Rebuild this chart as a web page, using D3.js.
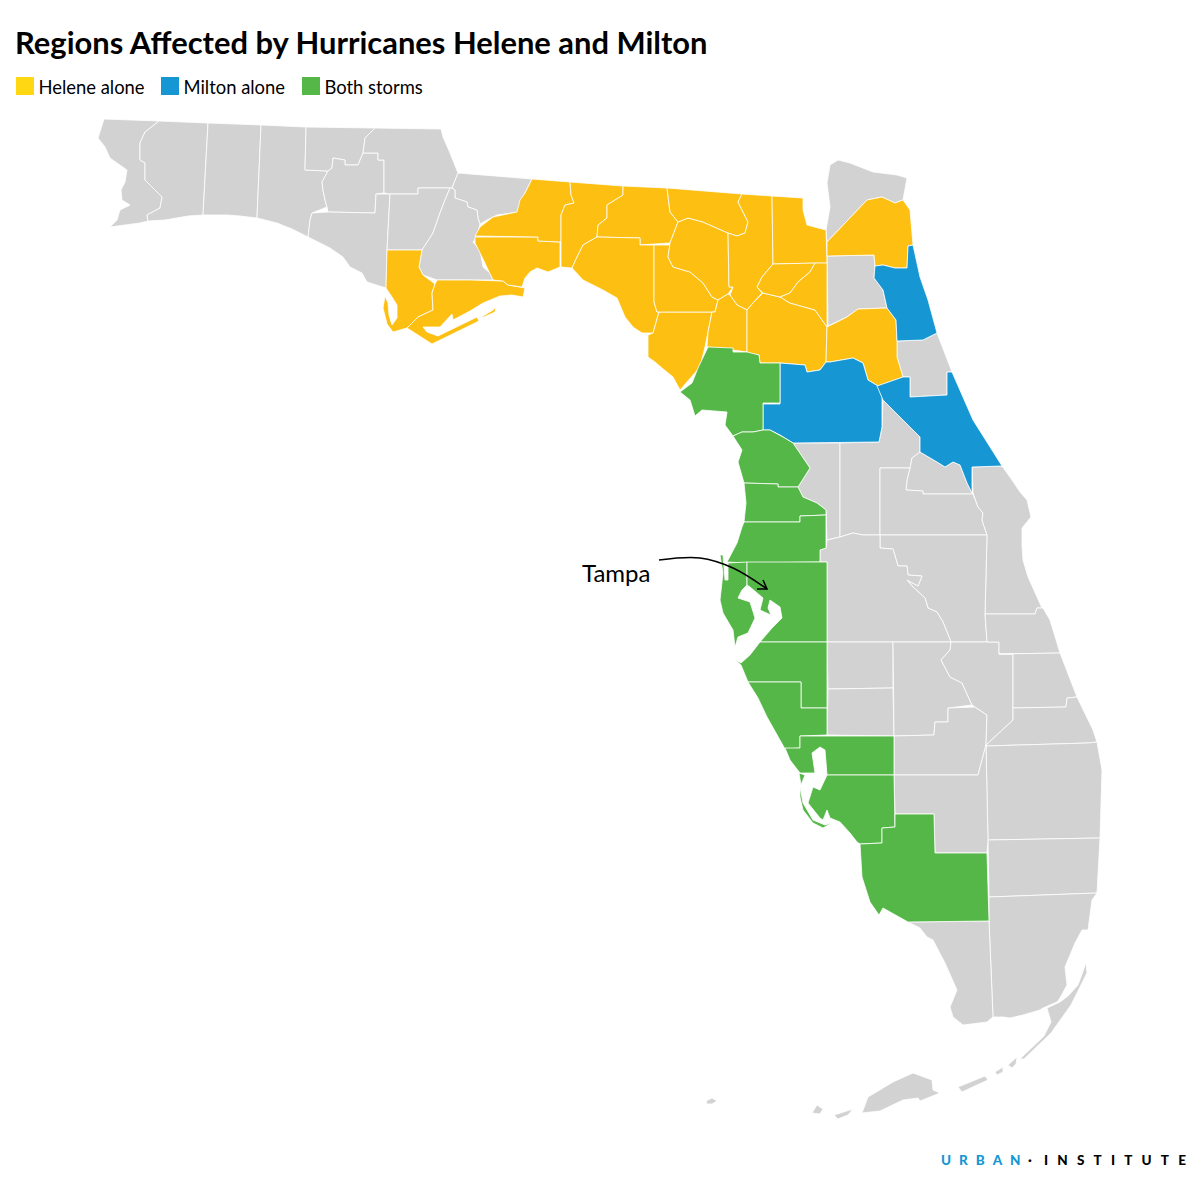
<!DOCTYPE html>
<html>
<head>
	<title></title>
	<style>
		html, body { margin: 0; background: white; }
		svg { display: block; font-family: Lato, sans-serif; }
	</style>
</head>
<body>
<svg class="map" width="1200" height="1183"></svg>

<script src="https://d3js.org/d3.v7.min.js"></script>
<script>

var titleText = 'Regions Affected by Hurricanes Helene and Milton'
var stormLabels = ['Helene alone', 'Milton alone', 'Both storms']
var stormKeys = ['helene', 'milton', 'both']
var stormColors = ['#fdbf11', '#1696d2', '#55b748']

var countyNames = [
	'Escambia', 'Santa Rosa', 'Okaloosa', 'Walton', 'Holmes', 'Washington', 'Bay', 'Jackson',
	'Gadsden', 'Calhoun', 'Liberty', 'Nassau', 'Clay', 'Flagler', 'Sumter', 'Lake', 'Seminole',
	'Orange', 'Brevard', 'Osceola', 'Polk', 'Hardee', 'DeSoto', 'Highlands', 'Glades', 'Okeechobee',
	'Indian River', 'St Lucie', 'Martin', 'Palm Beach', 'Broward', 'Hendry', 'Miami-Dade', 'Monroe',
	'Gulf', 'Franklin', 'Wakulla', 'Leon', 'Jefferson', 'Madison', 'Taylor', 'Dixie', 'Lafayette',
	'Suwannee', 'Hamilton', 'Columbia', 'Baker', 'Gilchrist', 'Alachua', 'Union', 'Bradford',
	'Duval', 'Putnam',
	'St Johns', 'Marion', 'Volusia',
	'Levy', 'Citrus', 'Hernando', 'Pasco', 'Pinellas', 'Hillsborough', 'Manatee', 'Sarasota',
	'Charlotte', 'Lee', 'Collier'
]

var heleneCounties = ['Gulf', 'Franklin', 'Wakulla', 'Leon', 'Jefferson', 'Madison', 'Taylor', 'Dixie', 'Lafayette',
	'Suwannee', 'Hamilton', 'Columbia', 'Baker', 'Gilchrist', 'Alachua', 'Union', 'Bradford', 'Duval', 'Putnam']
var miltonCounties = ['St Johns', 'Marion', 'Volusia']
var bothCounties = ['Levy', 'Citrus', 'Hernando', 'Pasco', 'Pinellas', 'Hillsborough', 'Manatee', 'Sarasota',
	'Charlotte', 'Lee', 'Collier']

var countyOutlines = [
	['104,119 98,138 105,147 110,158 127,170 125,182 121,190 122,200 130,205 120,210 117,220 110,227 140,223 148,221 147,215 160,208 162,197 145,180 145,163 140,160 140,143 145,132 159,121'],
	['159,121 208,123 203,215 188,216 165,220 148,221 147,215 160,208 162,197 145,180 145,163 140,160 140,143 145,132'],
	['208,123 261,125 257,218 240,216 227,215 203,215'],
	['261,125 306,127 305,170 328,171 322,182 323,190 325,200 327,207 312,213 310,220 308,237 292,229 277,223 257,218'],
	['306,127 375,128 365,138 363,153 358,165 345,165 345,160 333,158 332,168 328,171 305,170'],
	['328,171 332,168 333,158 345,160 345,165 358,165 363,153 378,153 378,160 384,160 384,193 376,194 375,213 328,212 327,207 325,200 323,190 322,182'],
	['312,213 328,212 375,213 376,194 390,194 387,250 386,288 367,282 362,273 350,267 343,257 330,248 308,237 310,220'],
	['375,128 441,129 443,137 450,153 458,173 452,188 418,188 418,194 390,194 384,193 384,160 378,160 378,153 363,153 365,138'],
	['458,173 532,179 525,193 519,212 497,215 487,220 480,224 478,218 477,210 468,207 467,202 455,198 455,190 452,188'],
	['390,194 418,194 418,188 450,188 445,200 440,213 433,233 422,250 387,250'],
	['450,188 452,188 455,190 455,198 467,202 468,207 477,210 478,218 480,224 477,237 473,242 480,250 483,267 490,273 493,280 437,280 423,275 419,267 422,250 433,233 440,213 445,200'],
	['838,160 830,165 827,183 830,207 826,230 827,242 867,200 882,197 895,203 903,200 907,178 897,175 873,172 850,163'],
	['827,256 874,255 875,266 874,278 883,290 887,308 858,309 847,317 828,326'],
	['897,341 923,340 937,333 952,372 947,372 947,395 910,397 910,377 903,377 897,357'],
	['793,443 840,443 840,537 827,540 826,510 817,503 803,497 798,487 810,468'],
	['840,443 879,442 882,427 883,400 903,420 920,437 920,452 912,458 910,468 880,468 880,535 863,535 853,533 840,537'],
	['910,468 912,458 920,452 937,462 945,467 953,462 960,465 967,483 972,493 973,494 923,494 923,491 906,490 907,480'],
	['880,468 910,468 907,480 906,490 923,491 923,494 973,494 978,507 983,513 982,520 987,535 880,535'],
	['972,467 1002,466 1012,480 1020,492 1027,500 1031,517 1022,528 1022,545 1023,560 1028,577 1042,608 1037,608 1035,614 985,614 987,535 982,520 983,513 978,507 973,493'],
	['880,535 987,535 985,614 987,642 951,642 943,622 937,612 928,608 925,598 913,587 907,580 918,586 922,576 908,575 907,566 898,566 893,549 880,548'],
	['827,540 840,537 853,533 863,535 880,535 880,548 893,549 898,566 907,566 908,575 922,576 918,586 907,580 913,587 925,598 928,608 937,612 943,622 951,642 827,642 827,562 820,562 820,550 826,548'],
	['827,642 893,642 893,688 828,689'],
	['828,689 893,688 894,736 827,735'],
	['893,642 951,642 950,650 941,660 950,677 962,683 972,705 948,708 948,722 935,722 934,735 894,736'],
	['894,736 934,735 935,722 948,722 948,708 975,707 987,715 986,745 978,775 894,775'],
	['951,642 999,642 999,654 1013,654 1013,720 986,745 987,715 975,707 972,705 962,683 950,677 941,660 950,650'],
	['985,614 1035,614 1037,608 1043,608 1050,620 1060,653 999,654 999,642 987,642'],
	['999,654 1060,653 1077,697 1067,698 1066,707 1013,708 1013,654'],
	['1013,708 1066,707 1067,698 1077,697 1093,730 1097,742 1088,743 985,746 1013,720'],
	['986,746 1088,743 1097,742 1102,770 1100,838 988,840'],
	['988,840 1100,838 1097,893 989,897'],
	['894,775 978,775 986,745 988,840 987,853 935,853 934,814 895,814'],
	['989,897 1097,893 1092,900 1088,930 1082,930 1075,943 1065,967 1067,985 1060,998 1057,1002 1043,1008 1040,1010 1023,1015 1010,1018 1003,1017 993,1017 989,921'],
	['908,922 989,921 993,1017 987,1022 963,1025 953,1017 950,1007 957,990 945,963 933,940 927,937 920,928',
		'1086,963 1078,985 1068,996 1060,1002 1047,1008 1051,1022 1044,1036 1020,1059 1024,1059 1051,1033 1071,1005 1087,973',
		'862,1113 868,1097 893,1082 913,1073 932,1080 933,1090 940,1093 920,1101 918,1098 903,1100 880,1111',
		'958,1087 985,1076 988,1080 962,1092',
		'995,1072 1003,1067 1003,1072 997,1075',
		'1008,1065 1017,1057 1016,1064 1012,1068',
		'834,1115 853,1109 848,1115 838,1119',
		'812,1113 817,1105 823,1109 820,1114',
		'706,1101 712,1098 717,1101 712,1104 707,1104'],
	['387,250 422,250 419,267 423,275 435,284 432,293 433,310 418,317 407,328 393,332 387,324 383,308 385,296 388,303 389,315 392,325 397,318 397,305 392,297 386,288'],
	['437,280 470,280 503,281 508,285 525,288 523,297 512,295 500,296 483,303 470,311 453,320 452,314 440,327 423,327 427,332 438,336 477,317 479,321 432,344 407,328 418,317 433,310 432,293 435,284',
		'480,318 493,310 496,307 495,312 484,317'],
	['475,237 538,237 538,241 560,242 560,267 548,272 537,268 530,272 525,278 522,287 508,285 503,281 493,280 482,257 475,243'],
	['532,179 570,182 571,195 574,203 565,205 561,215 561,242 538,241 538,237 475,236 480,227 493,217 517,212 520,200 525,193'],
	['570,182 623,186 623,195 607,205 607,218 598,225 597,237 583,245 577,257 572,268 561,267 561,242 561,215 565,205 574,203 571,195'],
	['623,186 667,188 670,212 678,222 670,243 640,245 640,238 597,237 598,225 607,218 607,205 623,195'],
	['597,237 640,238 640,245 654,245 654,302 657,312 659,312 653,333 642,333 633,327 625,317 617,298 603,290 583,280 572,268 577,257 583,245'],
	['659,312 712,312 708,332 705,347 700,367 680,390 673,377 662,368 655,362 648,357 648,335 653,333'],
	['654,245 670,245 668,257 673,267 690,272 703,283 712,297 718,300 715,312 659,312 657,312 654,302'],
	['670,243 678,222 688,218 703,222 728,233 729,287 733,287 728,294 718,300 712,297 703,283 690,272 673,267 668,257'],
	['667,188 742,194 738,202 748,222 745,233 737,236 728,233 703,222 688,218 678,222 670,212'],
	['742,194 772,196 773,264 762,277 757,287 762,293 753,303 747,310 737,305 730,295 733,287 729,287 728,233 737,236 745,233 748,222 738,202'],
	['772,196 803,198 803,210 807,225 826,230 827,263 773,264'],
	['718,300 728,294 730,295 737,305 747,310 747,352 733,350 707,347 708,332 712,312 715,312'],
	['747,310 753,303 763,293 780,297 790,303 815,310 827,327 826,362 820,370 807,372 805,365 780,363 760,363 759,355 747,353'],
	['773,264 815,263 810,272 798,282 790,293 780,297 763,293 757,287 762,277'],
	['815,263 827,263 827,327 815,310 790,303 780,297 790,293 798,282 810,272'],
	['827,242 867,200 882,197 895,203 903,200 910,210 913,245 908,246 907,268 895,268 883,265 875,266 874,255 827,256'],
	['827,327 847,317 858,309 887,308 896,320 897,341 897,357 903,377 878,386 868,380 863,363 853,358 830,362 826,362'],
	['875,266 883,265 895,268 907,268 908,246 913,245 920,277 928,300 937,333 923,340 897,341 896,320 887,308 883,290 874,278'],
	['780,363 805,365 807,372 820,370 826,362 830,362 853,358 863,363 868,380 878,386 882,397 882,427 879,442 793,443 780,435 770,430 763,430 763,404 780,404'],
	['903,377 910,377 910,397 947,395 947,372 952,372 973,420 1002,466 972,467 972,493 967,483 960,465 953,462 945,467 937,462 920,452 920,437 903,420 883,400 877,386'],
	['708,347 733,348 733,352 747,352 759,355 760,363 780,363 780,403 763,403 763,430 753,432 742,432 733,436 725,425 727,412 702,410 695,416 690,400 680,392 692,383 698,368'],
	['733,436 742,432 753,432 763,430 770,430 783,437 793,443 810,468 798,487 778,487 778,484 744,483 738,462 742,450'],
	['744,483 778,484 778,487 798,487 803,497 817,503 826,510 826,515 800,516 800,522 744,522 746,503'],
	['744,522 800,522 800,516 826,515 826,548 820,550 820,562 747,563 727,562 737,543 742,527'],
	['720,555 723,555 725,580 728,580 728,563 747,562 747,585 742,590 738,598 750,602 755,618 748,633 738,637 735,647 733,630 723,613 720,600 723,573'],
	['747,562 827,562 827,642 760,642 772,628 782,618 780,607 770,600 768,608 771,615 760,610 763,598 750,587 747,585'],
	['760,642 827,642 827,708 801,708 801,682 748,682 741,665 735,660 741,663 750,655'],
	['748,682 801,682 801,708 827,708 827,735 800,736 800,748 785,749 767,717 758,698'],
	['785,748 800,748 800,736 894,736 894,775 827,775 825,750 820,747 812,753 815,773 800,773 790,760',
		'799,773 805,775 801,785'],
	['827,775 894,775 895,827 882,828 882,843 860,844 857,842 850,833 840,822 830,818 827,810 823,820 820,818 808,803 813,787 820,790',
		'800,787 803,803 813,820 825,825 832,823 823,828 813,823 803,810 800,797'],
	['895,814 934,814 935,853 987,853 989,921 908,922 883,908 879,915 870,902 862,877 860,844 882,843 882,828 895,827']
]

// the Tampa call-out line, in map units
var tampaLabel = 'Tampa'
var tampaLeader = [[659, 560], [700, 558], [733, 568], [767, 589]]
var tampaBarbs = [[[757, 589], [767, 589], [763, 580]]]

var brandFirst = 'URBAN'
var brandDot = '\u00b7'
var brandSecond = 'INSTITUTE'


var width = 1200
var height = 1183
var svg = d3.select('.map')

function stormOf(name) {
	if (heleneCounties.includes(name)) return 'helene'
	if (miltonCounties.includes(name)) return 'milton'
	if (bothCounties.includes(name)) return 'both'
	return 'none'
}

function parseRing(ring) {
	var pts = ring.split(' ').map(function(p) { return p.split(',').map(Number) })
	pts.push(pts[0])
	return [pts]
}

var counties = countyNames.map(function(name, i) {
	return {
		type: 'Feature',
		properties: { name: name, storm: stormOf(name) },
		geometry: { type: 'MultiPolygon', coordinates: countyOutlines[i].map(parseRing) }
	}
})

var stormColor = d3.scaleOrdinal().domain(stormKeys).range(stormColors).unknown('#d2d2d2')

var xScale = d3.scaleLinear().domain([0, 1200]).range([0, width])
var yScale = d3.scaleLinear().domain([0, 1183]).range([0, height])
var path = d3.geoPath(d3.geoTransform({
	point: function(x, y) { this.stream.point(xScale(x), yScale(y)) }
}))

// counties, affected ones last so their edges sit on top
svg.append('g').selectAll('path')
	.data(counties)
	.enter().append('path')
		.attr('d', path)
		.attr('fill', function(d) { return stormColor(d.properties.storm) })
		.attr('stroke', 'white')
		.attr('stroke-width', 0.8)
		.attr('stroke-linejoin', 'round')

// title
svg.append('text')
	.attr('x', 15)
	.attr('y', 54)
	.attr('font-size', 30.9)
	.attr('font-weight', 700)
	.attr('fill', '#000')
	.text(titleText)

// legend
var legendX = [16, 161, 302]
var legendSwatch = ['#ffd712', stormColors[1], stormColors[2]]
var legend = svg.append('g').selectAll('g')
	.data(stormLabels)
	.enter().append('g')
		.attr('transform', function(d, i) { return 'translate(' + legendX[i] + ',77)' })
legend.append('rect')
	.attr('width', 18)
	.attr('height', 18)
	.attr('fill', function(d, i) { return legendSwatch[i] })
legend.append('text')
	.attr('x', 22.5)
	.attr('y', 17)
	.attr('font-size', 18.4)
	.attr('fill', '#000')
	.text(function(d) { return d })

// Tampa annotation
svg.append('text')
	.attr('x', 582)
	.attr('y', 582)
	.attr('font-size', 24)
	.attr('fill', '#000')
	.text(tampaLabel)

var line = d3.line()
	.x(function(d) { return xScale(d[0]) })
	.y(function(d) { return yScale(d[1]) })
svg.append('path')
	.attr('d', line.curve(d3.curveCatmullRom)(tampaLeader))
	.attr('fill', 'none')
	.attr('stroke', '#000')
	.attr('stroke-width', 1.5)
svg.append('path')
	.attr('d', line.curve(d3.curveLinear)(tampaBarbs[0]))
	.attr('fill', 'none')
	.attr('stroke', '#000')
	.attr('stroke-width', 1.5)

// logo text
var brandX = [941, 1028, 1044]
var brandSpacing = [8, 0, 9.2]
var brandFill = ['#1696d2', '#000', '#000']
svg.append('g').selectAll('text')
	.data([brandFirst, brandDot, brandSecond])
	.enter().append('text')
		.attr('x', function(d, i) { return brandX[i] })
		.attr('y', 1165)
		.attr('font-size', 13.5)
		.attr('font-weight', 900)
		.attr('letter-spacing', function(d, i) { return brandSpacing[i] })
		.attr('fill', function(d, i) { return brandFill[i] })
		.text(function(d) { return d })

</script>
</body>
</html>
